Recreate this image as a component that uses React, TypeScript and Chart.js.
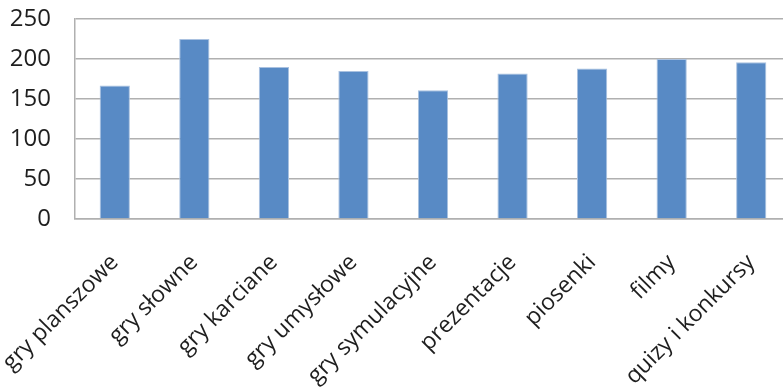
import React, { useEffect, useRef } from "react";
import { Chart, registerables } from "chart.js";

Chart.register(...registerables);

const categories = [
  "gry planszowe",
  "gry słowne",
  "gry karciane",
  "gry umysłowe",
  "gry symulacyjne",
  "prezentacje",
  "piosenki",
  "filmy",
  "quizy i konkursy",
];

const values = [167, 225, 190, 185, 161, 182, 188, 200, 196];

const yMin = 0;
const yMax = 250;
const yStep = 50;

const FONT = "'Open Sans', 'Noto Sans', sans-serif";

export default function App() {
  const canvasRef = useRef<HTMLCanvasElement | null>(null);

  useEffect(() => {
    const canvas = canvasRef.current;
    if (!canvas) return;
    const chart = new Chart(canvas, {
      type: "bar",
      data: {
        labels: categories,
        datasets: [
          {
            data: values,
            backgroundColor: "#588AC5",
            borderColor: "#a9c1e0",
            borderWidth: 1,
            categoryPercentage: 1,
            barPercentage: 0.38,
          },
        ],
      },
      options: {
        animation: false,
        responsive: false,
        devicePixelRatio: 1,
        layout: { padding: { top: 19, left: 0, right: 0, bottom: 0 } },
        plugins: {
          legend: { display: false },
          tooltip: { enabled: false },
        },
        scales: {
          x: {
            grid: { display: false, drawTicks: false },
            border: { display: true, color: "#b0b0b0", width: 1.5 },
            ticks: {
              color: "#1e1e1e",
              font: { family: FONT, size: 23 },
              minRotation: 45,
              maxRotation: 45,
              padding: 30,
              autoSkip: false,
            },
            afterFit: (scale: any) => {
              scale.height = 172;
              scale.paddingLeft = 0;
              scale.paddingRight = 0;
              scale.paddingTop = 0;
              scale.paddingBottom = 0;
            },
          },
          y: {
            min: yMin,
            max: yMax,
            grid: { color: "#b0b0b0", lineWidth: 1.5, drawTicks: false },
            border: { display: true, color: "#b0b0b0", width: 1.5 },
            ticks: {
              stepSize: yStep,
              color: "#1e1e1e",
              font: { family: FONT, size: 24 },
              padding: 24,
            },
            afterFit: (scale: any) => {
              scale.width = 75;
              scale.paddingTop = 0;
              scale.paddingBottom = 0;
              scale.paddingLeft = 0;
              scale.paddingRight = 0;
            },
          },
        },
      },
    });
    return () => chart.destroy();
  }, []);

  return (
    <div
      style={{
        position: "fixed",
        left: 0,
        top: 0,
        width: 783,
        height: 391,
        overflow: "hidden",
        background: "#ffffff",
      }}
    >
      <canvas ref={canvasRef} width={791} height={391} style={{ display: "block" }} />
    </div>
  );
}
